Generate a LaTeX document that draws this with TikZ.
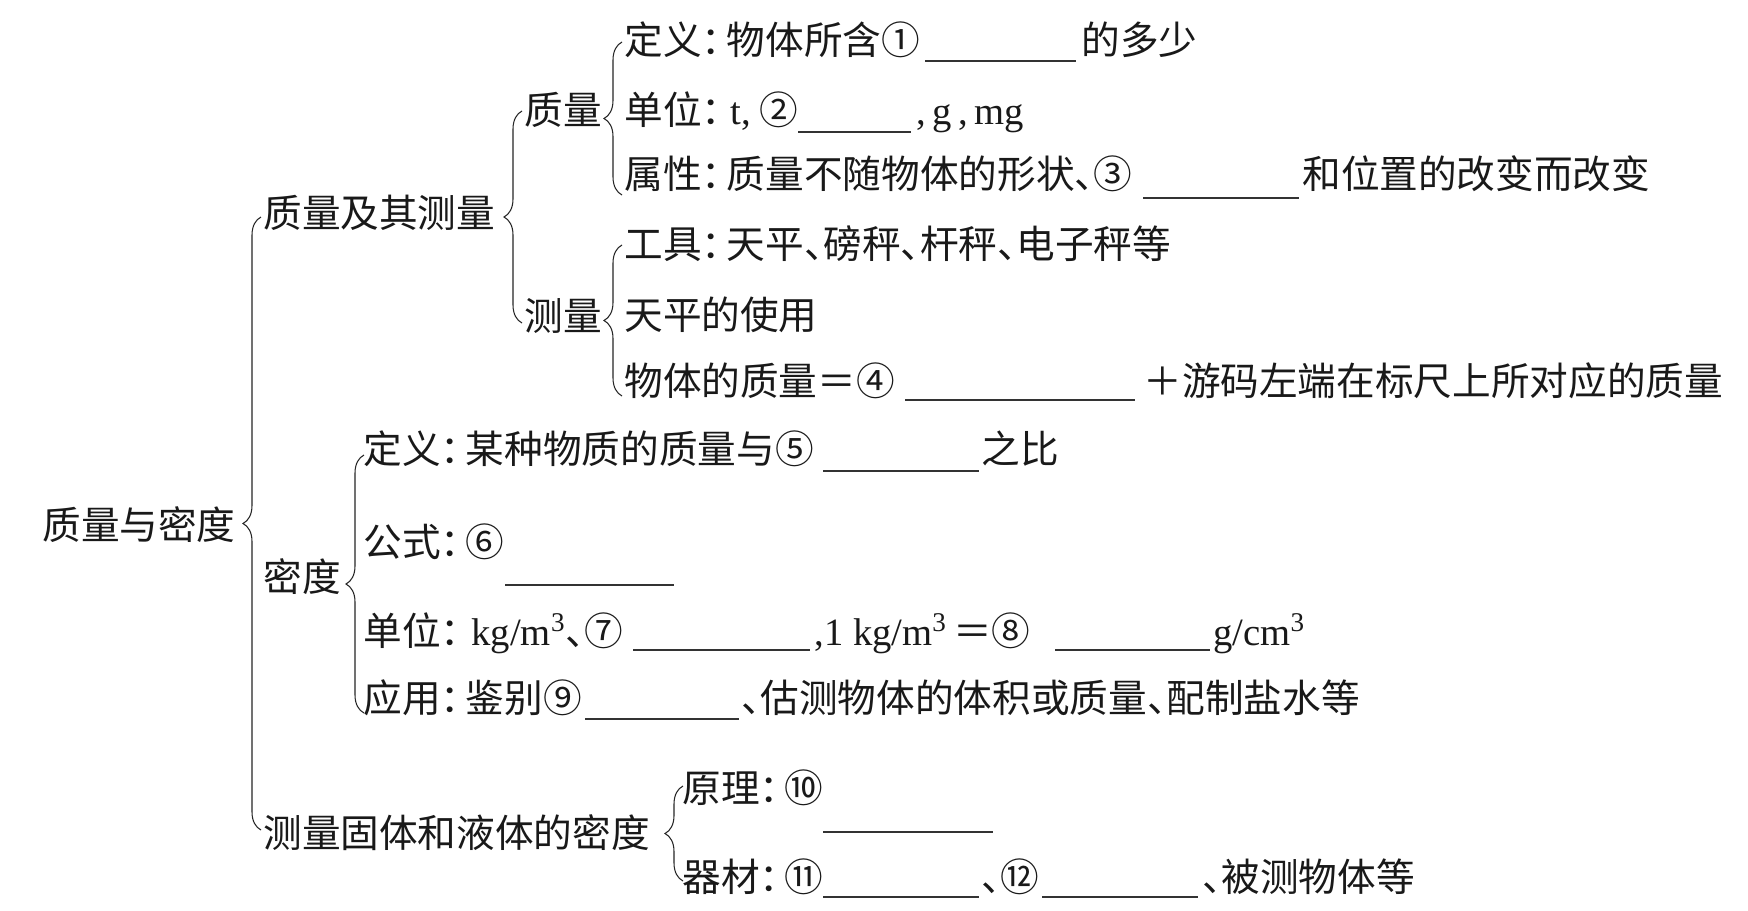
\documentclass[tikz,border=0pt]{standalone}
\usepackage{fontspec}
\setmainfont{Liberation Serif}
\newfontfamily\cjk[RawFeature=+halt]{Noto Sans CJK SC}
\newcommand\cln{：\kern0.15em}
\newcommand\clnl{：\kern0.3em}
\usetikzlibrary{decorations.pathreplacing}
\begin{document}
\begin{tikzpicture}[x=0.02cm,y=-0.02cm,
  txt/.style={anchor=base west, inner sep=0pt, text=black!90, font=\fontsize{22}{26}\selectfont\cjk},
  blank/.style={line width=0.8pt, draw=black!80},
  bracestyle/.style={draw=black!85, line width=0.6pt, decorate, decoration={brace, amplitude=0.36cm}}]
\useasboundingbox[fill=white] (0,0) rectangle (1748,910);

% level 0
\node[txt] (root) at (42,539) {质量与密度};
% level 1
\node[txt] (m) at (263,227) {质量及其测量};
\node[txt] (d) at (263,591) {密度};
\node[txt] (s) at (263,847) {测量固体和液体的密度};
% level 2 under m
\node[txt] (mq) at (524,124) {质量};
\node[txt] (mc) at (524,330) {测量};

% 质量 items
\node[txt] (a1) at (624,54) {定义\cln 物体所含①};
\coordinate (a1s) at (925,61); \coordinate (a1e) at (1076,61);
\node[txt] (a1r) at (1081,54) {的多少};

\node[txt] (a2) at (624,124) {单位\cln};
\node[txt] (a2t) at (730,124) {{\rmfamily t,}};
\node[txt] (a2n) at (759,124) {②};
\coordinate (a2s) at (798,132); \coordinate (a2e) at (911,132);
\node[txt] (a2r) at (916,124) {{\rmfamily ,\,g\,,\,mg}};

\node[txt] (a3) at (624,188) {属性\cln 质量不随物体的形状、③};
\coordinate (a3s) at (1143,198); \coordinate (a3e) at (1299,198);
\node[txt] (a3r) at (1302,188) {和位置的改变而改变};

% 测量 items
\node[txt] (b1) at (624,258) {工具\cln 天平、磅秤、杆秤、电子秤等};
\node[txt] (b2) at (624,329) {天平的使用};
\node[txt] (b3) at (624,395) {物体的质量＝④};
\coordinate (b3s) at (905,400); \coordinate (b3e) at (1135,400);
\node[txt] (b3r) at (1143,395) {＋游码左端在标尺上所对应的质量};

% 密度 items
\node[txt] (c1) at (363,463) {定义\cln 某种物质的质量与⑤};
\coordinate (c1s) at (823,471); \coordinate (c1e) at (979,471);
\node[txt] (c1r) at (981,463) {之比};

\node[txt] (c2) at (363,556) {公式\cln ⑥};
\coordinate (c2s) at (505,585); \coordinate (c2e) at (674,585);

\node[txt] (c3) at (363,645) {单位\clnl{\rmfamily kg/m\textsuperscript{3}}、⑦};
\coordinate (c3s) at (633,650); \coordinate (c3e) at (810,650);
\node[txt] (c3m) at (814,645) {{\rmfamily ,1 kg/m\textsuperscript{3}\,}＝⑧};
\coordinate (c3t) at (1055,650); \coordinate (c3u) at (1210,650);
\node[txt] (c3r) at (1213,645) {{\rmfamily g/cm\textsuperscript{3}}};

\node[txt] (c4) at (363,712) {应用\cln 鉴别⑨};
\coordinate (c4s) at (585,719); \coordinate (c4e) at (739,719);
\node[txt] (c4r) at (741,712) {、估测物体的体积或质量、配制盐水等};

% 测量密度 items
\node[txt] (d1) at (682,802) {原理\cln ⑩};
\coordinate (d1s) at (823,832); \coordinate (d1e) at (993,832);

\node[txt] (d2) at (682,891) {器材\cln ⑪};
\coordinate (d2s) at (823,897); \coordinate (d2e) at (979,897);
\node[txt] (d2m) at (981,891) {、};
\node[txt] (d2n) at (1000,891) {⑫};
\coordinate (d2t) at (1042,897); \coordinate (d2u) at (1198,897);
\node[txt] (d2r) at (1202,891) {、被测物体等};

% blanks
\foreach \p/\q in {a1s/a1e,a2s/a2e,a3s/a3e,b3s/b3e,c1s/c1e,c2s/c2e,c3s/c3e,c3t/c3u,c4s/c4e,d1s/d1e,d2s/d2e,d2t/d2u}
  \draw[blank] (\p) -- (\q);

% braces (ends at vertical x + 9)
\coordinate (B1b) at (261,830); \coordinate (B1t) at (261,217);
\coordinate (B2b) at (522,323); \coordinate (B2t) at (522,111);
\coordinate (B3b) at (622,195); \coordinate (B3t) at (622,42);
\coordinate (B4b) at (622,396); \coordinate (B4t) at (622,245);
\coordinate (B5b) at (364,713); \coordinate (B5t) at (364,455);
\coordinate (B6b) at (683,881); \coordinate (B6t) at (683,786);
\draw[bracestyle] (B1b) -- (B1t);
\draw[bracestyle] (B2b) -- (B2t);
\draw[bracestyle] (B3b) -- (B3t);
\draw[bracestyle] (B4b) -- (B4t);
\draw[bracestyle] (B5b) -- (B5t);
\draw[bracestyle] (B6b) -- (B6t);
\end{tikzpicture}
\end{document}
